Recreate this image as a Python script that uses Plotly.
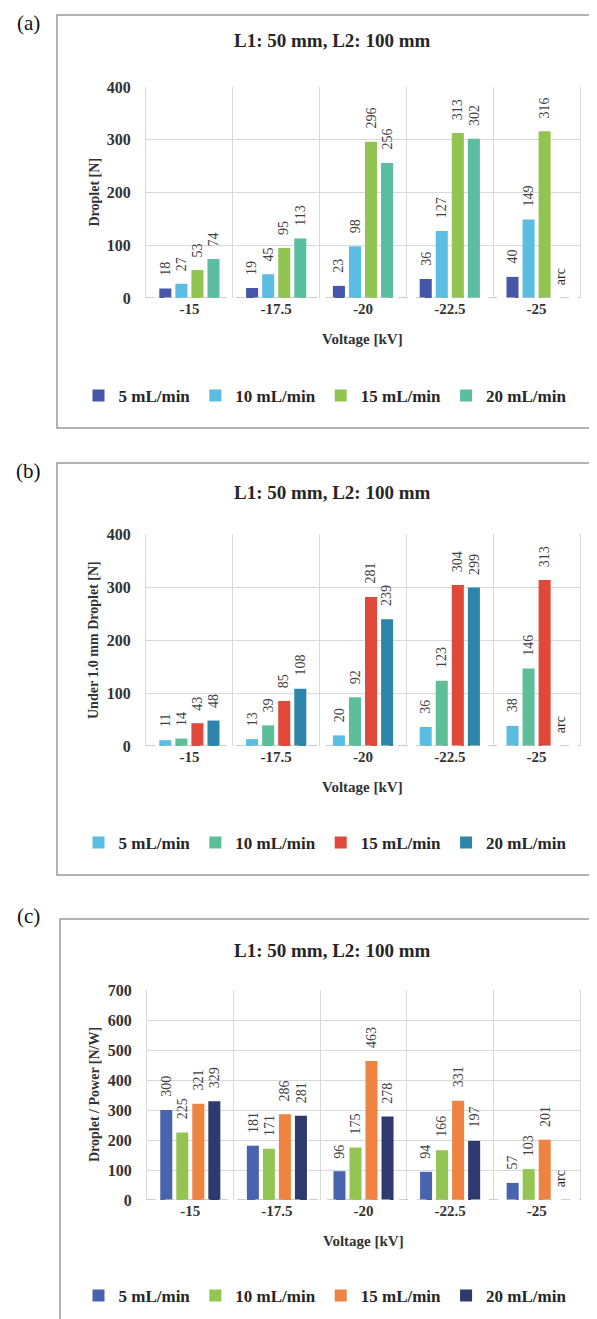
import plotly.graph_objects as go

W, H = 597, 1319

# ---------------- data ----------------
voltages = ["-15", "-17.5", "-20", "-22.5", "-25"]
flow_rates = ["5 mL/min", "10 mL/min", "15 mL/min", "20 mL/min"]

droplet_5 = [18, 19, 23, 36, 40]
droplet_10 = [27, 45, 98, 127, 149]
droplet_15 = [53, 95, 296, 313, 316]
droplet_20 = [74, 113, 256, 302, None]

under1_5 = [11, 13, 20, 36, 38]
under1_10 = [14, 39, 92, 123, 146]
under1_15 = [43, 85, 281, 304, 313]
under1_20 = [48, 108, 239, 299, None]

dpp_5 = [300, 181, 96, 94, 57]
dpp_10 = [225, 171, 175, 166, 103]
dpp_15 = [321, 286, 463, 331, 201]
dpp_20 = [329, 281, 278, 197, None]

missing_label = "arc"
panel_title = "L1: 50 mm, L2: 100 mm"
x_title = "Voltage [kV]"

# ---------------- style ----------------
SERIF = "Liberation Serif, Times New Roman, serif"
BARGAP = 0.26
GROUPGAP = 0.25
N_SER = 4


def px_x(x):
    return x / W


def px_y(y):
    return 1 - y / H


panels = [
    dict(suffix="", tag="(a)", ytitle="Droplet [N]", yrange=[0, 400],
         series=[droplet_5, droplet_10, droplet_15, droplet_20],
         colors=["#4557a6", "#5bbde4", "#92c452", "#5bbea0"],
         box=(49, 7, 640, 420), label_y=15, title_y=33,
         plot=(138, 572, 79, 290), xt_y=331, leg_y=388),
    dict(suffix="2", tag="(b)", ytitle="Under 1.0 mm Droplet [N]", yrange=[0, 400],
         series=[under1_5, under1_10, under1_15, under1_20],
         colors=["#5bbde4", "#5dbf9a", "#e0483a", "#2e85aa"],
         box=(49, 455, 640, 867), label_y=463, title_y=484,
         plot=(138, 572, 526, 738), xt_y=779, leg_y=835),
    dict(suffix="3", tag="(c)", ytitle="Droplet / Power [N/W]", yrange=[0, 700],
         series=[dpp_5, dpp_10, dpp_15, dpp_20],
         colors=["#4864ae", "#94c553", "#ef8342", "#2d3a6d"],
         box=(52, 911, 640, 1400), label_y=908, title_y=942,
         plot=(139, 572, 982, 1192), xt_y=1233, leg_y=1288),
]

fig = go.Figure()
annotations = []
shapes = []
layout = {}

slot = (1 - BARGAP) / N_SER

for p in panels:
    s = p["suffix"]
    xa, ya = "x" + s, "y" + s
    leg = "legend" + s
    for j, (vals, col, name) in enumerate(zip(p["series"], p["colors"], flow_rates)):
        fig.add_trace(go.Bar(
            x=voltages, y=vals, name=name, marker=dict(color=col, line=dict(width=0)),
            xaxis=xa, yaxis=ya, legend=leg, showlegend=True,
        ))
        offset = -(1 - BARGAP) / 2 + slot * (j + 0.5)
        for i, v in enumerate(vals):
            annotations.append(dict(
                x=i + offset, y=v if v is not None else 0, xref=xa, yref=ya,
                text=str(v) if v is not None else missing_label,
                textangle=-90, showarrow=False, xanchor="center", yanchor="bottom",
                yshift=11,
                font=dict(family=SERIF, size=14,
                          color="#404040" if v is not None else "#262626"),
            ))

    x0, x1, y0, y1 = p["plot"]
    layout["xaxis" + s] = dict(
        domain=[px_x(x0), px_x(x1)], anchor=ya, type="category",
        tickson="boundaries", showgrid=True, gridcolor="#d9d9d9", gridwidth=1,
        ticks="outside", ticklen=4, tickcolor="rgba(0,0,0,0)",
        tickfont=dict(family=SERIF, size=15, color="#333333", weight="bold"),
        showline=False, zeroline=False, automargin=False, fixedrange=True,
    )
    layout["yaxis" + s] = dict(
        domain=[px_y(y1), px_y(y0)], anchor=xa, range=p["yrange"], dtick=100,
        showgrid=True, gridcolor="#d9d9d9", gridwidth=1, zeroline=False,
        showline=True, mirror=True, linecolor="#d9d9d9", linewidth=1,
        ticks="outside", ticklen=11, tickcolor="rgba(0,0,0,0)",
        tickfont=dict(family=SERIF, size=16, color="#333333", weight="bold"),
        automargin=False, fixedrange=True,
    )
    layout[leg] = dict(
        orientation="h", x=px_x(317), xanchor="center", y=px_y(p["leg_y"]),
        yanchor="middle", bgcolor="rgba(0,0,0,0)", traceorder="normal",
        font=dict(family=SERIF, size=17, color="#262626", weight="bold"),
        itemwidth=30, itemclick=False, itemdoubleclick=False,
    )

    # dashed baseline
    shapes.append(dict(type="line", xref=xa + " domain", yref=ya, x0=0, x1=1, y0=0, y1=0,
                       line=dict(color="#bfbfbf", width=1.5, dash="dash"), layer="above"))
    # panel frame
    bx0, by0, bx1, by1 = p["box"]
    shapes.append(dict(type="rect", xref="paper", yref="paper",
                       x0=px_x(bx0), x1=px_x(bx1), y0=px_y(by1), y1=px_y(by0),
                       line=dict(color="#9a9a9a", width=1.5), layer="below"))

    # texts
    annotations.append(dict(x=px_x(20), y=px_y(p["label_y"]), xref="paper", yref="paper",
                            text=p["tag"], showarrow=False, xanchor="center", yanchor="middle",
                            font=dict(family=SERIF, size=21, color="#111111")))
    annotations.append(dict(x=px_x(324), y=px_y(p["title_y"]), xref="paper", yref="paper",
                            text="<b>" + panel_title + "</b>", showarrow=False,
                            xanchor="center", yanchor="middle",
                            font=dict(family=SERIF, size=19, color="#262626")))
    annotations.append(dict(x=px_x(86), y=px_y((y0 + y1) / 2), xref="paper", yref="paper",
                            text="<b>" + p["ytitle"] + "</b>", showarrow=False, textangle=-90,
                            xanchor="center", yanchor="middle",
                            font=dict(family=SERIF, size=14, color="#333333")))
    annotations.append(dict(x=px_x((x0 + x1) / 2), y=px_y(p["xt_y"]), xref="paper", yref="paper",
                            text="<b>" + x_title + "</b>", showarrow=False,
                            xanchor="center", yanchor="middle",
                            font=dict(family=SERIF, size=15, color="#333333")))

fig.update_layout(
    width=W, height=H, margin=dict(l=0, r=0, t=0, b=0),
    paper_bgcolor="white", plot_bgcolor="white",
    barmode="group", bargap=BARGAP, bargroupgap=GROUPGAP,
    annotations=annotations, shapes=shapes, hovermode=False,
    **layout,
)

fig.write_html("out.html")
